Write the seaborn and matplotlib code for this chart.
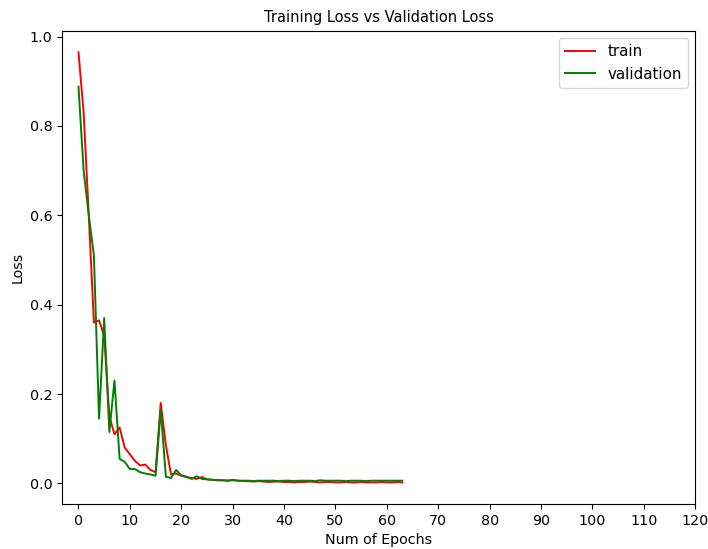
import numpy as np
import pandas as pd
import matplotlib
matplotlib.use("Agg")
import matplotlib.pyplot as plt
import seaborn as sns

epochs = list(range(64))
train_loss = [0.965, 0.83, 0.60, 0.36, 0.365, 0.33, 0.15, 0.11, 0.125, 0.08,
              0.065, 0.05, 0.04, 0.042, 0.03, 0.025, 0.18, 0.085, 0.02, 0.022,
              0.017, 0.014, 0.012, 0.010, 0.014, 0.009, 0.008, 0.007, 0.007, 0.006,
              0.008, 0.006, 0.005, 0.005, 0.004, 0.005, 0.004, 0.003, 0.004, 0.004,
              0.003, 0.003, 0.002, 0.003, 0.003, 0.004, 0.003, 0.002, 0.003, 0.003,
              0.002, 0.002, 0.003, 0.002, 0.002, 0.003, 0.002, 0.002, 0.002, 0.003,
              0.002, 0.002, 0.003, 0.002]
val_loss = [0.888, 0.70, 0.60, 0.51, 0.145, 0.37, 0.115, 0.23, 0.055, 0.048,
            0.032, 0.032, 0.025, 0.022, 0.020, 0.017, 0.165, 0.015, 0.012, 0.030,
            0.018, 0.015, 0.010, 0.016, 0.010, 0.009, 0.008, 0.007, 0.007, 0.006,
            0.007, 0.006, 0.006, 0.006, 0.005, 0.006, 0.006, 0.006, 0.006, 0.005,
            0.006, 0.006, 0.005, 0.006, 0.006, 0.006, 0.005, 0.007, 0.006, 0.006,
            0.006, 0.006, 0.005, 0.006, 0.006, 0.006, 0.005, 0.006, 0.006, 0.006,
            0.006, 0.006, 0.006, 0.006]
xticks = list(range(0, 121, 10))

df = pd.DataFrame({"epoch": epochs, "train": train_loss, "validation": val_loss})

fig, ax = plt.subplots(figsize=(7.08, 5.49), dpi=100)
fig.subplots_adjust(left=0.088, right=0.982, top=0.944, bottom=0.082)

sns.lineplot(data=df, x="epoch", y="train", color="red", label="train", ax=ax, linewidth=1.4)
sns.lineplot(data=df, x="epoch", y="validation", color="green", label="validation", ax=ax, linewidth=1.4)

ax.set_xticks(xticks)
ax.set_xlim(-3.15, 120)
ax.set_title("Training Loss vs Validation Loss", fontsize=10.5)
ax.set_xlabel("Num of Epochs", fontsize=10.3)
ax.set_ylabel("Loss", fontsize=10.3)
ax.tick_params(labelsize=10.3)
ax.legend(loc="upper right", fontsize=10.8)

fig.savefig("out.png", dpi=100)
